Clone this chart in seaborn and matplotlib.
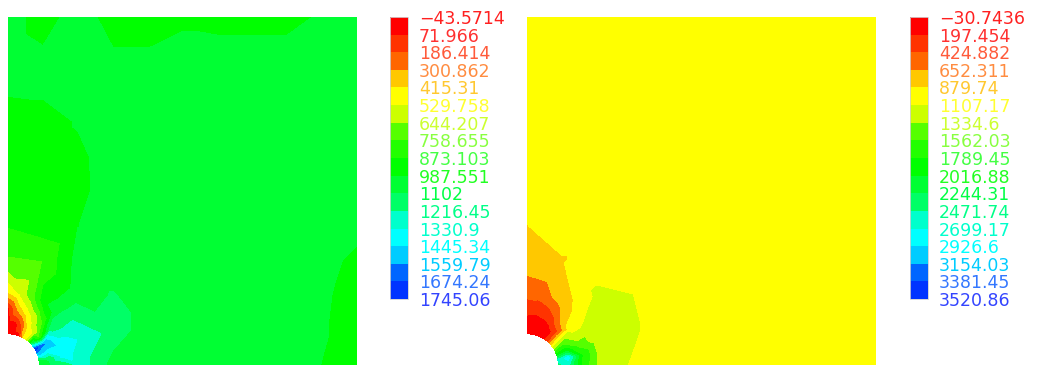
import numpy as np
import matplotlib
matplotlib.use("Agg")
import matplotlib.pyplot as plt
import matplotlib.tri as mtri
import seaborn as sns

# ---- model geometry: quarter plate with a circular hole at the origin ----
PLATE = 10.0
HOLE_R = 0.9

# ---- contour levels and the labels printed on each colour bar ----
left_levels = [-43.5714, 71.966, 186.414, 300.862, 415.31, 529.758, 644.207,
               758.655, 873.103, 987.551, 1102, 1216.45, 1330.9, 1445.34,
               1559.79, 1674.24, 1745.06]
left_labels = ["\u221243.5714", "71.966", "186.414", "300.862", "415.31",
               "529.758", "644.207", "758.655", "873.103", "987.551", "1102",
               "1216.45", "1330.9", "1445.34", "1559.79", "1674.24", "1745.06"]

right_levels = [-30.7436, 197.454, 424.882, 652.311, 879.74, 1107.17, 1334.6,
                1562.03, 1789.45, 2016.88, 2244.31, 2471.74, 2699.17, 2926.6,
                3154.03, 3381.45, 3520.86]
right_labels = ["\u221230.7436", "197.454", "424.882", "652.311", "879.74",
                "1107.17", "1334.6", "1562.03", "1789.45", "2016.88", "2244.31",
                "2471.74", "2699.17", "2926.6", "3154.03", "3381.45", "3520.86"]

# fill colour of each of the 16 bands (low value -> high value)
band_colors = ["#ff0000", "#ff3300", "#ff6600", "#ffc800", "#ffff00", "#ccff00",
               "#55ff00", "#22ff00", "#00ff00", "#00ff33", "#00ff66", "#00ffcc",
               "#00ffff", "#00ccff", "#0066ff", "#0033ff"]
# colour of each level label
label_colors = ["#ff2020", "#ff3030", "#ff5a3a", "#ff8c40", "#ffc830", "#ffff30",
                "#ccff30", "#88ff40", "#44ff44", "#22ff22", "#00ff44", "#00ff88",
                "#00ffcc", "#00ffff", "#00ccff", "#3377ff", "#3344ff"]

# ---- nodal results on the rings around the hole (rows: radius, cols: angle) ----
ring_radii = [0.9, 1.2, 1.6, 2.1]
ring_angles = [0, 10, 20, 30, 40, 50, 60, 70, 80, 90]

left_ring_values = [
    [1045, 1100, 1500, 1720, 1200, 600, 420, 30, 0, -30],
    [1080, 1120, 1400, 1560, 800, 560, 470, 200, 20, 0],
    [1100, 1390, 1390, 1320, 1150, 800, 600, 470, 300, 30],
    [1270, 1280, 1330, 1270, 1150, 1050, 950, 720, 560, 420],
]
right_ring_values = [
    [2400, 2500, 1800, 1300, 800, 300, 100, 50, 30, 20],
    [2500, 2800, 1950, 1500, 950, 250, 120, 80, 60, 80],
    [1700, 1800, 1450, 1200, 1000, 760, 450, 300, 250, 280],
    [1220, 1230, 1220, 1200, 1080, 900, 770, 650, 540, 520],
]

# ---- nodal results on the far-field grid (rows: y = 10 .. 0, cols: x = 0 .. 10) ----
# nan marks grid nodes that fall inside the ring zone
grid_x = list(range(11))
grid_y = list(range(10, -1, -1))
nan = np.nan
left_grid_values = [
    [1045, 930, 1045, 940, 930, 950, 930, 930, 930, 1010, 1045],
    [1045, 1000, 1045, 995, 995, 1040, 1040, 1040, 1040, 1045, 1045],
    [1010, 1020, 1045, 1045, 1045, 1045, 1045, 1045, 1045, 1045, 1045],
    [930, 930, 998, 1045, 1045, 1045, 1045, 1045, 1045, 1045, 1045],
    [930, 930, 960, 1045, 1045, 1045, 1045, 1045, 1045, 1045, 1045],
    [930, 930, 955, 1045, 1045, 1045, 1045, 1045, 1045, 1045, 1045],
    [880, 930, 985, 1045, 1045, 1045, 1045, 1045, 1045, 1045, 1040],
    [740, 760, 1030, 1045, 1045, 1045, 1045, 1045, 1045, 1040, 950],
    [nan, nan, 1045, 1110, 1045, 1045, 1045, 1045, 1045, 1010, 930],
    [nan, nan, nan, 1160, 1045, 1045, 1045, 1045, 1045, 1000, 930],
    [nan, nan, nan, 1060, 1045, 1045, 1045, 1045, 1045, 985, 930],
]
right_grid_values = [
    [990] * 11,
    [990] * 11,
    [990] * 11,
    [990] * 11,
    [990] * 11,
    [990] * 11,
    [875, 990, 990, 990, 990, 990, 990, 990, 990, 990, 990],
    [770, 860, 990, 990, 990, 990, 990, 990, 990, 990, 990],
    [nan, nan, 1150, 1110, 990, 990, 990, 990, 990, 990, 990],
    [nan, nan, nan, 1140, 990, 990, 990, 990, 990, 990, 990],
    [nan, nan, nan, 1090, 990, 990, 990, 990, 990, 990, 990],
]


def build_mesh(ring_values, grid_values):
    rr, tt = np.meshgrid(ring_radii, np.deg2rad(ring_angles), indexing="ij")
    rx = (rr * np.cos(tt)).ravel()
    ry = (rr * np.sin(tt)).ravel()
    rv = np.asarray(ring_values, float).ravel()
    gx, gy = np.meshgrid(grid_x, grid_y)
    gv = np.asarray(grid_values, float)
    keep = ~np.isnan(gv)
    x = np.concatenate([rx, gx[keep]])
    y = np.concatenate([ry, gy[keep]])
    v = np.concatenate([rv, gv[keep]])
    tri = mtri.Triangulation(x, y)
    cx = x[tri.triangles].mean(axis=1)
    cy = y[tri.triangles].mean(axis=1)
    tri.set_mask(np.hypot(cx, cy) < HOLE_R)
    return tri, v


sns.set_theme(style="white")
plt.rcParams["font.family"] = ["DejaVu Sans"]
palette = sns.color_palette(band_colors)

W, H = 1037, 365
fig = plt.figure(figsize=(W / 100, H / 100), dpi=100)

panels = [
    (left_ring_values, left_grid_values, left_levels, left_labels, 8, 390),
    (right_ring_values, right_grid_values, right_levels, right_labels, 527, 910),
]
for ring_vals, grid_vals, levels, labels, ax_left, cb_left in panels:
    ax = fig.add_axes([ax_left / W, 0, 349 / W, 348 / H])
    tri, v = build_mesh(ring_vals, grid_vals)
    cs = ax.tricontourf(tri, v, levels=levels, colors=palette, antialiased=False)
    ax.set_xlim(0, PLATE)
    ax.set_ylim(0, PLATE)
    ax.set_aspect("auto")
    ax.set_axis_off()

    cax = fig.add_axes([cb_left / W, (H - 299) / H, 18 / W, 282 / H])
    cbar = fig.colorbar(cs, cax=cax, ticks=levels)
    cbar.ax.invert_yaxis()
    cbar.ax.set_yticklabels(labels)
    cbar.ax.tick_params(length=0, pad=8, labelsize=12.5)
    for lab, col in zip(cbar.ax.get_yticklabels(), label_colors):
        lab.set_color(col)
    cbar.outline.set_edgecolor("#d0d0d0")
    cbar.outline.set_linewidth(0.6)

fig.savefig("out.png", dpi=100, facecolor="white")
